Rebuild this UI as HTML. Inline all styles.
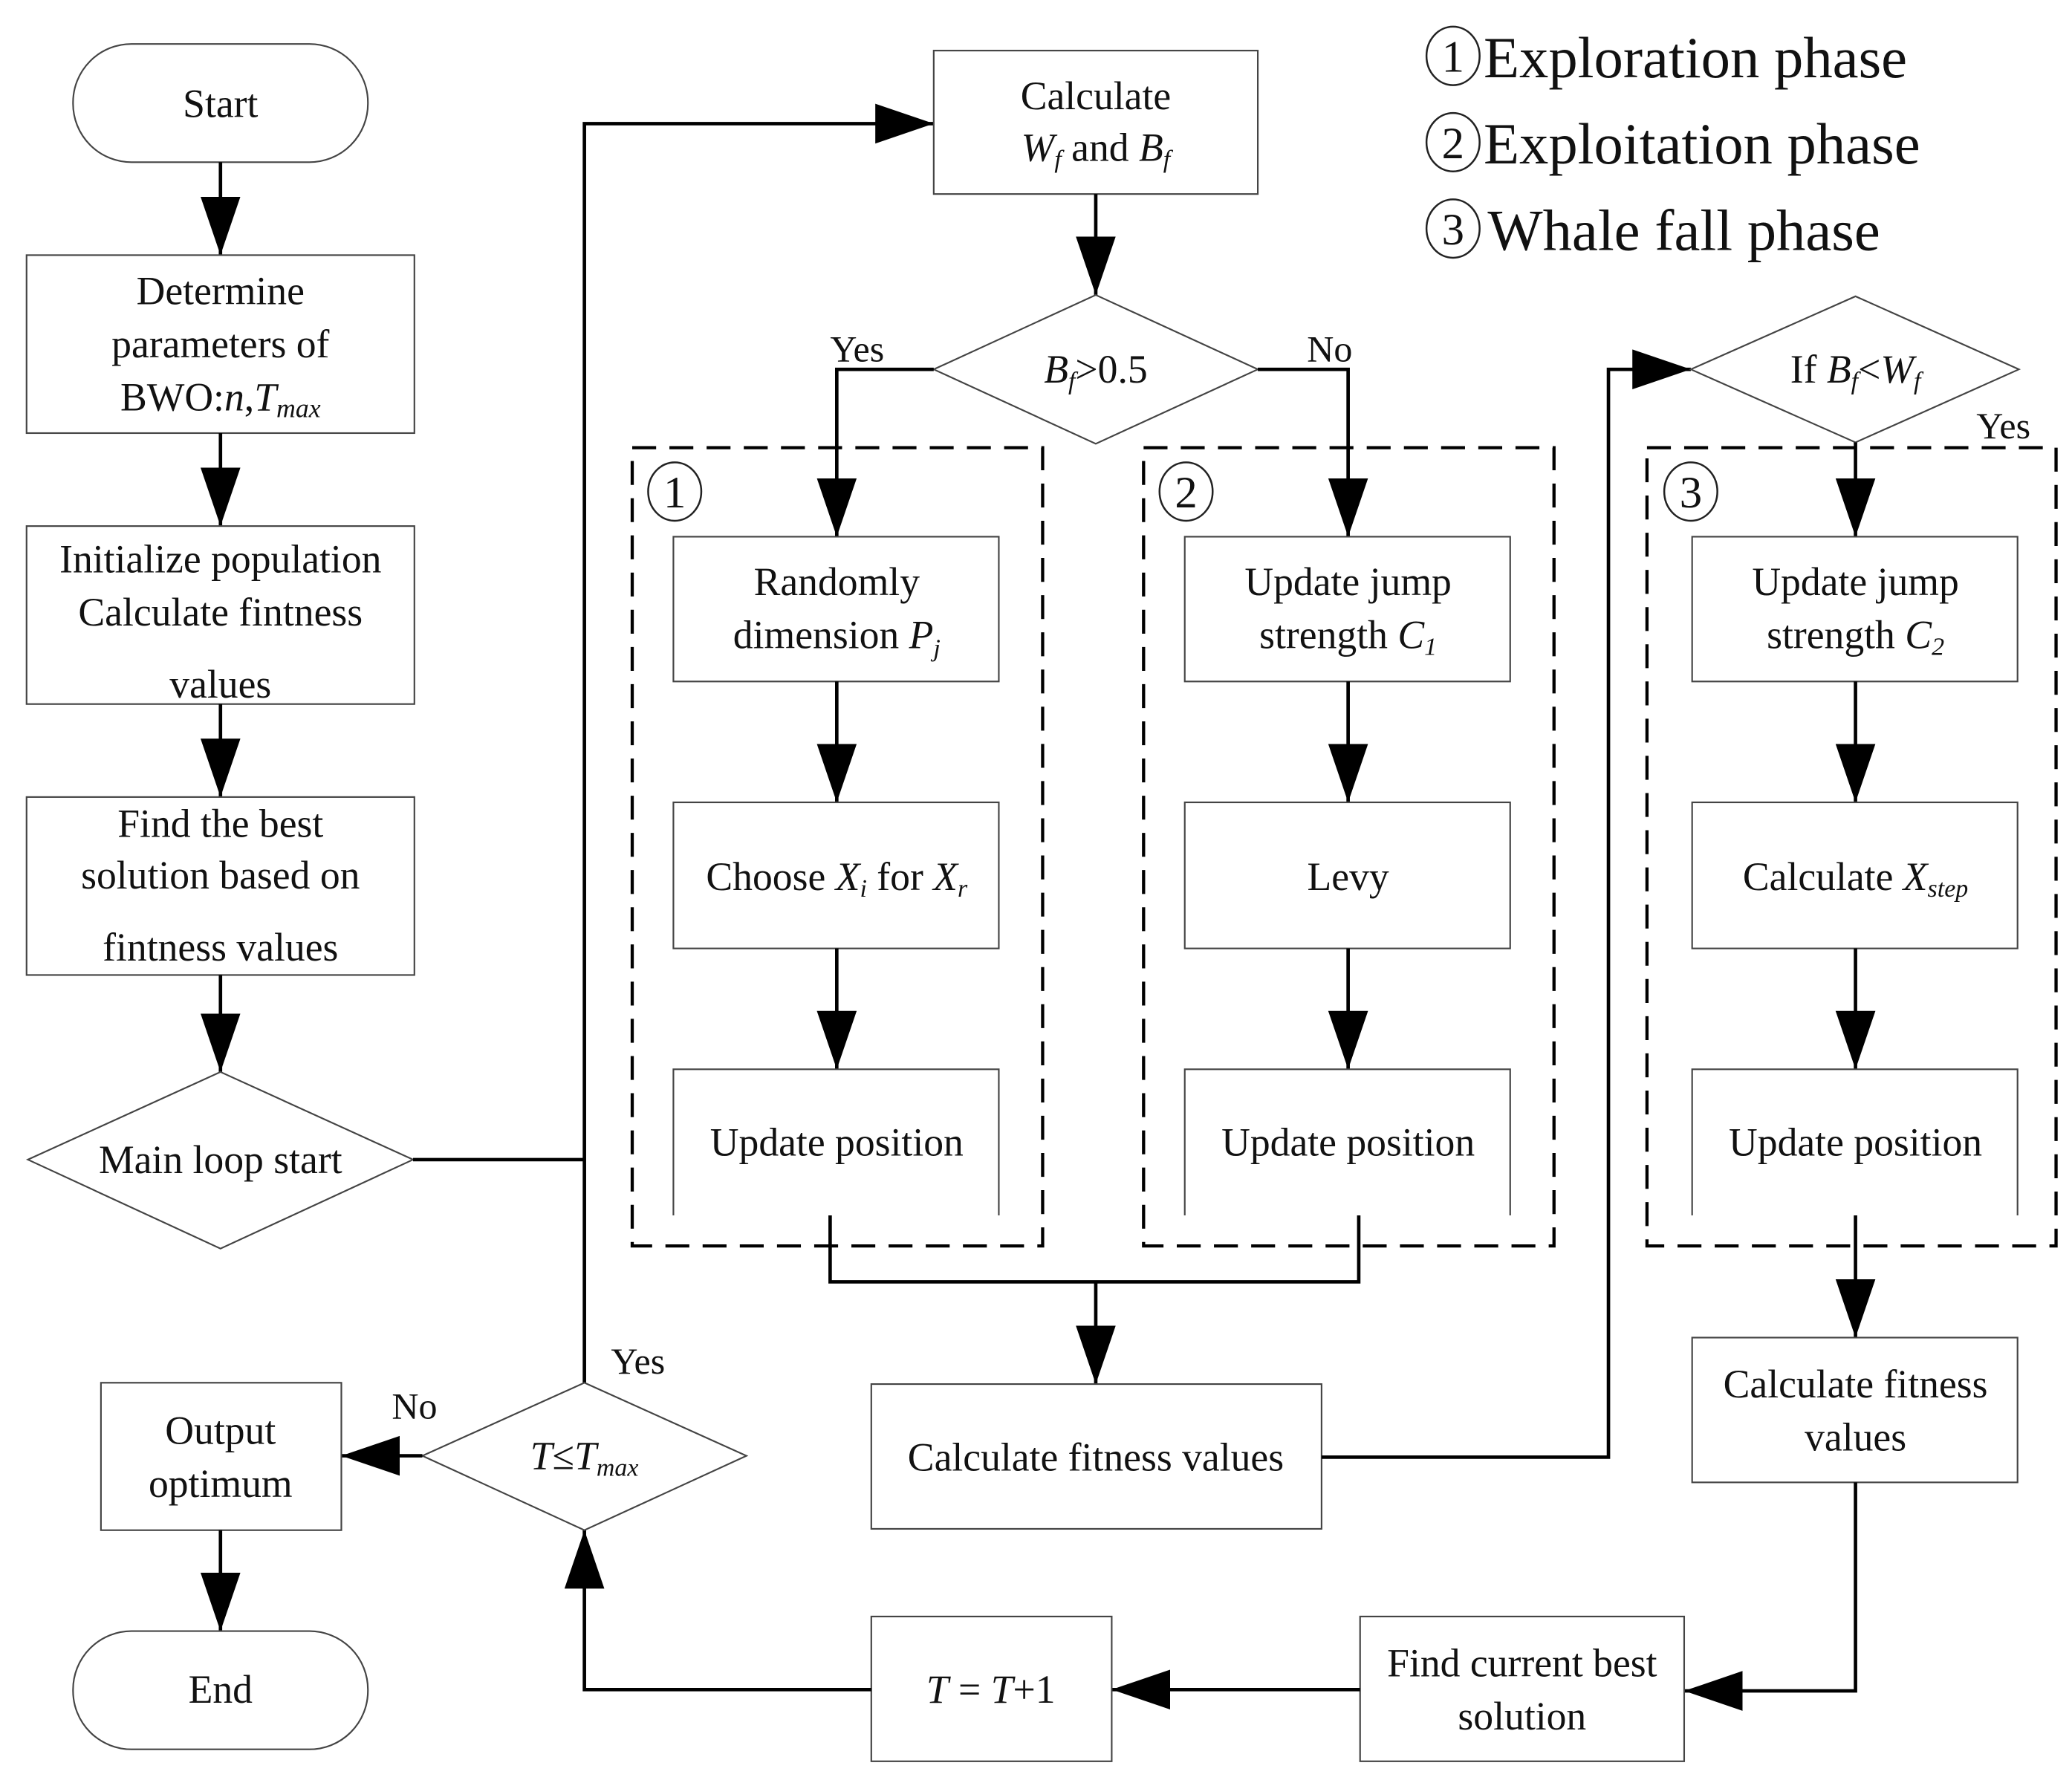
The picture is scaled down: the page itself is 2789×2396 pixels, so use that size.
<!DOCTYPE html>
<html><head><meta charset="utf-8"><style>
html,body{margin:0;padding:0;background:#fff}
svg{display:block}
text{font-family:"Liberation Serif",serif;fill:#111}
.b{fill:#fff;stroke:#444;stroke-width:1.2}
.c{fill:none;stroke:#000;stroke-width:2.6}
.d{fill:none;stroke:#000;stroke-width:2.4;stroke-dasharray:18 10}
.o{fill:none;stroke:#222;stroke-width:1.4}
.t{font-size:30px;text-anchor:middle}
.n{font-size:34px;text-anchor:middle}
.l{font-size:28px}
.g{font-size:44px}
</style></head><body>
<svg width="2789" height="2396" viewBox="0 0 1560 1340" xmlns="http://www.w3.org/2000/svg">
<defs><marker id="a" markerUnits="userSpaceOnUse" markerWidth="46" markerHeight="32" refX="44" refY="15" orient="auto"><path d="M0,0 L44,15 L0,30 Z" fill="#000"/></marker></defs>

<!-- legend -->
<ellipse class="o" cx="1094" cy="42" rx="20" ry="22"/><text class="n" x="1094" y="54">1</text>
<ellipse class="o" cx="1094" cy="107" rx="20" ry="22"/><text class="n" x="1094" y="119">2</text>
<ellipse class="o" cx="1094" cy="172" rx="20" ry="22"/><text class="n" x="1094" y="184">3</text>
<text class="g" x="1117" y="58">Exploration phase</text>
<text class="g" x="1117" y="123">Exploitation phase</text>
<text class="g" x="1120" y="188">Whale fall phase</text>

<!-- left column -->
<rect class="b" x="55" y="33" width="222" height="89" rx="44"/>
<text class="t" x="166" y="88">Start</text>
<line class="c" x1="166" y1="122" x2="166" y2="192" marker-end="url(#a)"/>
<rect class="b" x="20" y="192" width="292" height="134"/>
<text class="t" x="166" y="229">Determine</text>
<text class="t" x="166" y="269">parameters of</text>
<text class="t" x="166" y="309">BWO:<tspan font-style="italic">n</tspan>,<tspan font-style="italic">T</tspan><tspan font-style="italic" font-size="20" dy="5">max</tspan></text>
<line class="c" x1="166" y1="326" x2="166" y2="396" marker-end="url(#a)"/>
<rect class="b" x="20" y="396" width="292" height="134"/>
<text class="t" x="166" y="431">Initialize population</text>
<text class="t" x="166" y="471">Calculate fintness</text>
<text class="t" x="166" y="525">values</text>
<line class="c" x1="166" y1="530" x2="166" y2="600" marker-end="url(#a)"/>
<rect class="b" x="20" y="600" width="292" height="134"/>
<text class="t" x="166" y="630">Find the best</text>
<text class="t" x="166" y="669">solution based on</text>
<text class="t" x="166" y="723">fintness values</text>
<line class="c" x1="166" y1="734" x2="166" y2="807" marker-end="url(#a)"/>
<polygon class="b" points="166,807 311,873 166,940 21,873"/>
<text class="t" x="166" y="883">Main loop start</text>

<polyline class="c" points="311,873 440,873"/>
<polyline class="c" points="440,1041 440,93 703,93" marker-end="url(#a)"/>

<rect class="b" x="703" y="38" width="244" height="108"/>
<text class="t" x="825" y="82">Calculate</text>
<text class="t" x="825" y="121"><tspan font-style="italic">W<tspan font-size="19" dy="5">f</tspan></tspan><tspan dy="-5"> and </tspan><tspan font-style="italic">B<tspan font-size="19" dy="5">f</tspan></tspan></text>
<line class="c" x1="825" y1="146" x2="825" y2="222" marker-end="url(#a)"/>
<polygon class="b" points="825,222 947,278 825,334 703,278"/>
<text class="t" x="825" y="288"><tspan font-style="italic">B<tspan font-size="19" dy="5">f</tspan></tspan><tspan dy="-5">&gt;0.5</tspan></text>
<text class="l" x="625" y="272">Yes</text>
<text class="l" x="984" y="272">No</text>
<polyline class="c" points="703,278 630,278 630,404" marker-end="url(#a)"/>
<polyline class="c" points="947,278 1015,278 1015,404" marker-end="url(#a)"/>

<!-- dashed groups -->
<rect class="d" x="476" y="337" width="309" height="601"/>
<rect class="d" x="861" y="337" width="309" height="601"/>
<rect class="d" x="1240" y="337" width="308" height="601"/>
<ellipse class="o" cx="508" cy="370" rx="20" ry="22"/><text class="n" x="508" y="382">1</text>
<ellipse class="o" cx="893" cy="370" rx="20" ry="22"/><text class="n" x="893" y="382">2</text>
<ellipse class="o" cx="1273" cy="370" rx="20" ry="22"/><text class="n" x="1273" y="382">3</text>

<!-- column 1 -->
<rect class="b" x="507" y="404" width="245" height="109"/>
<text class="t" x="630" y="448">Randomly</text>
<text class="t" x="630" y="488">dimension <tspan font-style="italic">P<tspan font-size="19" dy="6">j</tspan></tspan></text>
<line class="c" x1="630" y1="513" x2="630" y2="604" marker-end="url(#a)"/>
<rect class="b" x="507" y="604" width="245" height="110"/>
<text class="t" x="630" y="670">Choose <tspan font-style="italic">X<tspan font-size="19" dy="5">i</tspan></tspan><tspan dy="-5"> for </tspan><tspan font-style="italic">X<tspan font-size="19" dy="5">r</tspan></tspan></text>
<line class="c" x1="630" y1="714" x2="630" y2="805" marker-end="url(#a)"/>
<polyline class="b" points="507,915 507,805 752,805 752,915"/>
<text class="t" x="630" y="870">Update position</text>

<!-- column 2 -->
<rect class="b" x="892" y="404" width="245" height="109"/>
<text class="t" x="1015" y="448">Update jump</text>
<text class="t" x="1015" y="488">strength <tspan font-style="italic">C<tspan font-size="19" dy="5">1</tspan></tspan></text>
<line class="c" x1="1015" y1="513" x2="1015" y2="604" marker-end="url(#a)"/>
<rect class="b" x="892" y="604" width="245" height="110"/>
<text class="t" x="1015" y="670">Levy</text>
<line class="c" x1="1015" y1="714" x2="1015" y2="805" marker-end="url(#a)"/>
<polyline class="b" points="892,915 892,805 1137,805 1137,915"/>
<text class="t" x="1015" y="870">Update position</text>

<polyline class="c" points="625,915 625,965 1023,965 1023,915"/>
<line class="c" x1="825" y1="965" x2="825" y2="1042" marker-end="url(#a)"/>
<rect class="b" x="656" y="1042" width="339" height="109"/>
<text class="t" x="825" y="1107">Calculate fitness values</text>
<polyline class="c" points="995,1097 1211,1097 1211,278 1273,278" marker-end="url(#a)"/>

<!-- column 3 -->
<polygon class="b" points="1397,223 1520,278 1397,333 1273,278"/>
<text class="t" x="1397" y="288">If <tspan font-style="italic">B<tspan font-size="19" dy="5">f</tspan></tspan><tspan dy="-5">&lt;</tspan><tspan font-style="italic">W<tspan font-size="19" dy="5">f</tspan></tspan></text>
<text class="l" x="1488" y="330">Yes</text>
<line class="c" x1="1397" y1="333" x2="1397" y2="404" marker-end="url(#a)"/>
<rect class="b" x="1274" y="404" width="245" height="109"/>
<text class="t" x="1397" y="448">Update jump</text>
<text class="t" x="1397" y="488">strength <tspan font-style="italic">C<tspan font-size="19" dy="5">2</tspan></tspan></text>
<line class="c" x1="1397" y1="513" x2="1397" y2="604" marker-end="url(#a)"/>
<rect class="b" x="1274" y="604" width="245" height="110"/>
<text class="t" x="1397" y="670">Calculate <tspan font-style="italic">X<tspan font-size="19" dy="5">step</tspan></tspan></text>
<line class="c" x1="1397" y1="714" x2="1397" y2="805" marker-end="url(#a)"/>
<polyline class="b" points="1274,915 1274,805 1519,805 1519,915"/>
<text class="t" x="1397" y="870">Update position</text>
<line class="c" x1="1397" y1="915" x2="1397" y2="1007" marker-end="url(#a)"/>
<rect class="b" x="1274" y="1007" width="245" height="109"/>
<text class="t" x="1397" y="1052">Calculate fitness</text>
<text class="t" x="1397" y="1092">values</text>
<polyline class="c" points="1397,1116 1397,1273 1268,1273" marker-end="url(#a)"/>

<rect class="b" x="1024" y="1217" width="244" height="109"/>
<text class="t" x="1146" y="1262">Find current best</text>
<text class="t" x="1146" y="1302">solution</text>
<line class="c" x1="1024" y1="1272" x2="837" y2="1272" marker-end="url(#a)"/>
<rect class="b" x="656" y="1217" width="181" height="109"/>
<text class="t" x="746" y="1282"><tspan font-style="italic">T</tspan> = <tspan font-style="italic">T</tspan>+1</text>
<polyline class="c" points="656,1272 440,1272 440,1152" marker-end="url(#a)"/>

<polygon class="b" points="440,1041 562,1096 440,1152 318,1096"/>
<text class="t" x="440" y="1106"><tspan font-style="italic">T</tspan>≤<tspan font-style="italic">T<tspan font-size="19" dy="5">max</tspan></tspan></text>
<text class="l" x="460" y="1034">Yes</text>
<text class="l" x="295" y="1068">No</text>
<line class="c" x1="318" y1="1096" x2="257" y2="1096" marker-end="url(#a)"/>
<rect class="b" x="76" y="1041" width="181" height="111"/>
<text class="t" x="166" y="1087">Output</text>
<text class="t" x="166" y="1127">optimum</text>
<line class="c" x1="166" y1="1152" x2="166" y2="1228" marker-end="url(#a)"/>
<rect class="b" x="55" y="1228" width="222" height="89" rx="44"/>
<text class="t" x="166" y="1282">End</text>
</svg>
</body></html>
